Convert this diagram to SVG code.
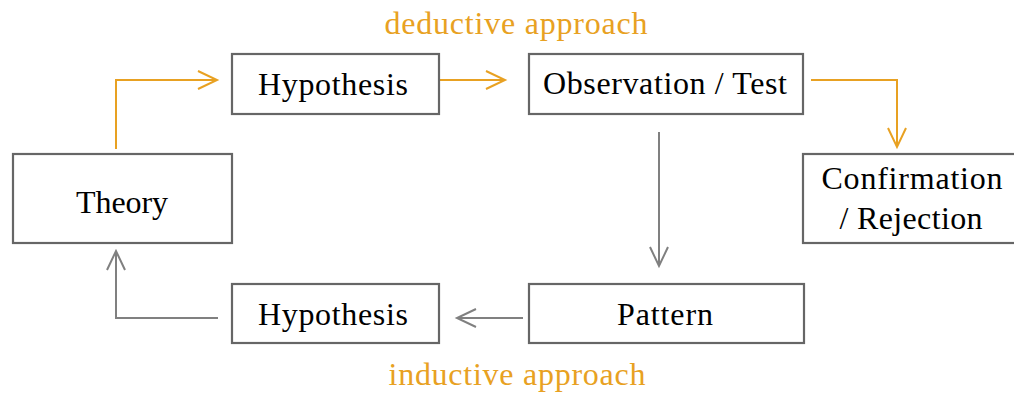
<svg xmlns="http://www.w3.org/2000/svg" width="1014" height="394" viewBox="0 0 1014 394">
  <style>
    .box { fill: #ffffff; stroke: #666666; stroke-width: 2.2; }
    .warm { fill: none; stroke: #E8A122; stroke-width: 2; }
    .cool { fill: none; stroke: #808080; stroke-width: 2; }
  </style>
  <defs>
    <marker id="head-warm" markerUnits="userSpaceOnUse" markerWidth="22" markerHeight="22" refX="19" refY="10" orient="auto" overflow="visible">
      <path d="M0,1 L19,10 L0,19" fill="none" stroke="#E8A122" stroke-width="2"/>
    </marker>
    <marker id="head-cool" markerUnits="userSpaceOnUse" markerWidth="22" markerHeight="22" refX="19" refY="10" orient="auto" overflow="visible">
      <path d="M0,1 L19,10 L0,19" fill="none" stroke="#808080" stroke-width="2"/>
    </marker>
  </defs>

  <rect width="1014" height="394" fill="#ffffff"/>

  <!-- section captions -->
  <g font-family="Liberation Serif, serif" font-size="32" fill="#E8A122" text-anchor="middle">
    <text x="516" y="34" textLength="263" lengthAdjust="spacing">deductive approach</text>
    <text x="517" y="385" textLength="257" lengthAdjust="spacing">inductive approach</text>
  </g>

  <!-- connectors -->
  <g id="connectors">
    <path class="warm" d="M116,149 L116,80 L217,80" marker-end="url(#head-warm)"/>
    <path class="warm" d="M440,80 L505,80" marker-end="url(#head-warm)"/>
    <path class="warm" d="M811,80 L897,80 L897,147" marker-end="url(#head-warm)"/>
    <path class="cool" d="M659,132 L659,266" marker-end="url(#head-cool)"/>
    <path class="cool" d="M523,318 L457,318" marker-end="url(#head-cool)"/>
    <path class="cool" d="M218,318 L116,318 L116,251" marker-end="url(#head-cool)"/>
  </g>

  <!-- nodes -->
  <g font-family="Liberation Serif, serif" font-size="32" fill="#000000" text-anchor="middle">
    <g id="theory">
      <rect class="box" x="13" y="154" width="219" height="89"/>
      <text x="122" y="213" textLength="92" lengthAdjust="spacing">Theory</text>
    </g>
    <g id="hypothesis-top">
      <rect class="box" x="232" y="54" width="207" height="60"/>
      <text x="333" y="95" textLength="150" lengthAdjust="spacing">Hypothesis</text>
    </g>
    <g id="observation">
      <rect class="box" x="529" y="54" width="274" height="60"/>
      <text x="665" y="94" textLength="244" lengthAdjust="spacing">Observation / Test</text>
    </g>
    <g id="confirmation">
      <rect class="box" x="803" y="154" width="220" height="89"/>
      <text x="912" y="189" textLength="181" lengthAdjust="spacing">Confirmation</text>
      <text x="911" y="229" textLength="143" lengthAdjust="spacing">/ Rejection</text>
    </g>
    <g id="pattern">
      <rect class="box" x="529" y="284" width="275" height="59"/>
      <text x="665" y="325" textLength="96" lengthAdjust="spacing">Pattern</text>
    </g>
    <g id="hypothesis-bottom">
      <rect class="box" x="232" y="284" width="207" height="59"/>
      <text x="333" y="325" textLength="150" lengthAdjust="spacing">Hypothesis</text>
    </g>
  </g>
</svg>
